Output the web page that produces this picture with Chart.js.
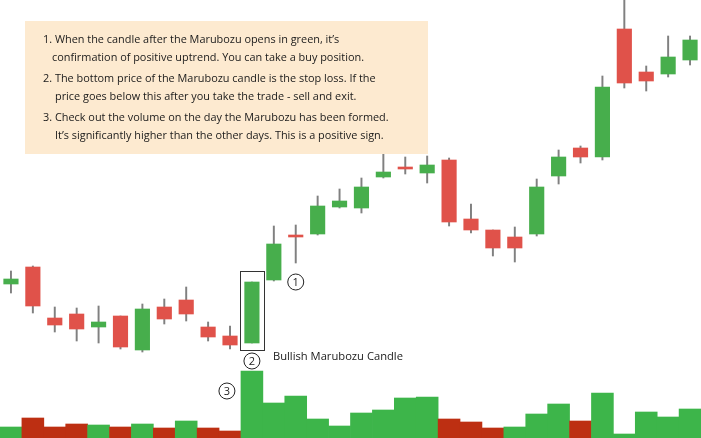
<!DOCTYPE html>
<html>
<head>
<meta charset="utf-8">
<script src="https://cdn.jsdelivr.net/npm/chart.js@4.4.0/dist/chart.umd.min.js"></script>
<style>
    html, body { margin: 0; padding: 0; background: #fff; }
    #wrap { width: 701px; height: 438px; position: relative; }
</style>
</head>
<body>
<div id="wrap"><canvas id="marubozuChart"></canvas></div>
<script>
const days = ['D1', 'D2', 'D3', 'D4', 'D5', 'D6', 'D7', 'D8', 'D9', 'D10', 'D11', 'D12', 'D13', 'D14', 'D15', 'D16',
    'D17', 'D18', 'D19', 'D20', 'D21', 'D22', 'D23', 'D24', 'D25', 'D26', 'D27', 'D28', 'D29', 'D30', 'D31', 'D32'];
const opens = [110.8, 114.2, 104.0, 104.8, 102.2, 104.4, 97.6, 106.2, 107.6, 102.2, 100.4, 99.0, 111.6, 120.6, 120.8, 126.2,
    126.0, 132.2, 134.2, 133.0, 135.6, 123.8, 121.6, 120.2, 120.8, 132.4, 138.0, 136.2, 161.8, 153.2, 152.8, 155.6];
const highs = [113.4, 114.4, 106.2, 106.0, 106.4, 104.4, 106.8, 107.8, 110.2, 103.2, 102.4, 111.2, 122.4, 122.6, 128.4, 129.8,
    132.0, 137.2, 136.2, 136.4, 136.0, 126.8, 121.6, 122.2, 131.8, 137.6, 138.4, 152.4, 172.0, 154.4, 160.4, 160.4];
const lows = [109.0, 105.0, 101.2, 99.4, 99.0, 97.8, 97.2, 102.8, 103.4, 99.4, 97.8, 99.0, 111.4, 115.0, 120.6, 126.0,
    125.0, 132.0, 132.8, 131.0, 122.4, 121.0, 116.4, 115.2, 120.4, 130.8, 135.0, 135.6, 150.0, 149.4, 152.2, 154.6];
const closes = [111.8, 106.4, 102.6, 101.8, 103.2, 98.2, 105.8, 103.8, 104.8, 100.2, 98.6, 111.2, 118.8, 120.2, 126.4, 127.4,
    130.2, 133.2, 133.8, 134.6, 123.2, 121.6, 118.0, 118.0, 130.2, 136.2, 136.2, 150.2, 151.0, 151.4, 156.2, 159.6];
const volumes = [110, 200, 110, 140, 130, 110, 140, 100, 170, 100, 70, 670, 350, 420, 190, 120,
    250, 280, 400, 410, 190, 160, 100, 110, 240, 340, 170, 450, 40, 260, 210, 290];
const volumeUp = [true, false, false, false, true, false, true, false, true, false, false, true, true, true, true, true,
    true, true, true, true, false, false, false, true, true, true, false, true, true, true, true, true];
const notes = [
    ['1. When the candle after the Marubozu opens in green, it’s', 'confirmation of positive uptrend. You can take a buy position.'],
    ['2. The bottom price of the Marubozu candle is the stop loss. If the', 'price goes below this after you take the trade - sell and exit.'],
    ['3. Check out the volume on the day the Marubozu has been formed.', 'It’s significantly higher than the other days. This is a positive sign.']
];
const marubozuIndex = 11;
const marubozuLabel = 'Bullish Marubozu Candle';

const UP = '#47ae4c';
const DOWN = '#e0524a';
const FONT = '"Open Sans", sans-serif';

function circledNumber(ctx, x, y, n) {
    ctx.beginPath();
    ctx.arc(x, y, 8, 0, Math.PI * 2);
    ctx.lineWidth = 1;
    ctx.strokeStyle = '#222';
    ctx.stroke();
    ctx.fillStyle = '#222';
    ctx.font = '11px ' + FONT;
    ctx.textAlign = 'center';
    ctx.textBaseline = 'middle';
    ctx.fillText(String(n), x, y + 0.5);
}

const annotations = {
    id: 'annotations',
    afterDraw(chart) {
        const ctx = chart.ctx;
        const x = chart.scales.x;
        const y = chart.scales.y;
        const yVol = chart.scales.yVol;
        ctx.save();

        // note box
        ctx.fillStyle = '#fdead0';
        ctx.fillRect(25, 21, 403, 133);
        ctx.fillStyle = '#1a1a1a';
        ctx.font = '10.9px ' + FONT;
        ctx.textAlign = 'left';
        ctx.textBaseline = 'middle';
        let lineY = 40;
        notes.forEach((n, i) => {
            ctx.fillText(n[0], 43, lineY);
            ctx.fillText(n[1], i === 0 ? 52 : 55, lineY + 18);
            lineY += 39;
        });

        // frame round the marubozu candle
        const cx = x.getPixelForValue(marubozuIndex);
        const top = y.getPixelForValue(closes[marubozuIndex]) - 11;
        const bottom = y.getPixelForValue(opens[marubozuIndex]) + 7;
        ctx.strokeStyle = '#333';
        ctx.lineWidth = 1;
        ctx.strokeRect(Math.round(cx - 12) + 0.5, Math.round(top) + 0.5, 24, Math.round(bottom - top));

        circledNumber(ctx, x.getPixelForValue(marubozuIndex + 2), y.getPixelForValue(closes[marubozuIndex]), 1);
        circledNumber(ctx, cx, bottom + 11, 2);
        circledNumber(ctx, cx - 25, yVol.getPixelForValue(volumes[marubozuIndex]) + 20, 3);

        ctx.fillStyle = '#1a1a1a';
        ctx.font = '11.2px ' + FONT;
        ctx.textAlign = 'left';
        ctx.textBaseline = 'middle';
        ctx.fillText(marubozuLabel, cx + 21, bottom + 7);
        ctx.restore();
    }
};

new Chart(document.getElementById('marubozuChart').getContext('2d'), {
    type: 'bar',
    data: {
        labels: days,
        datasets: [
            {
                label: 'Wick',
                data: days.map((_, i) => [lows[i], highs[i]]),
                backgroundColor: '#808080',
                barThickness: 1.3,
                grouped: false,
                order: 3,
                yAxisID: 'y'
            },
            {
                label: 'Body',
                data: days.map((_, i) => [opens[i], closes[i]]),
                backgroundColor: days.map((_, i) => closes[i] >= opens[i] ? UP : DOWN),
                barThickness: 14.5,
                minBarLength: 2,
                grouped: false,
                order: 2,
                yAxisID: 'y'
            },
            {
                label: 'Volume',
                data: volumes,
                backgroundColor: volumeUp.map(u => u ? '#3db54a' : '#bd2f12'),
                barPercentage: 1,
                categoryPercentage: 1,
                grouped: false,
                order: 4,
                yAxisID: 'yVol'
            }
        ]
    },
    options: {
        responsive: true,
        maintainAspectRatio: false,
        animation: false,
        events: [],
        layout: {padding: 0},
        scales: {
            x: {display: false, offset: true},
            y: {display: false, min: 80, max: 167.6},
            yVol: {display: false, min: 0, max: 4380}
        },
        plugins: {
            legend: {display: false},
            tooltip: {enabled: false}
        }
    },
    plugins: [annotations]
});
</script>
</body>
</html>
